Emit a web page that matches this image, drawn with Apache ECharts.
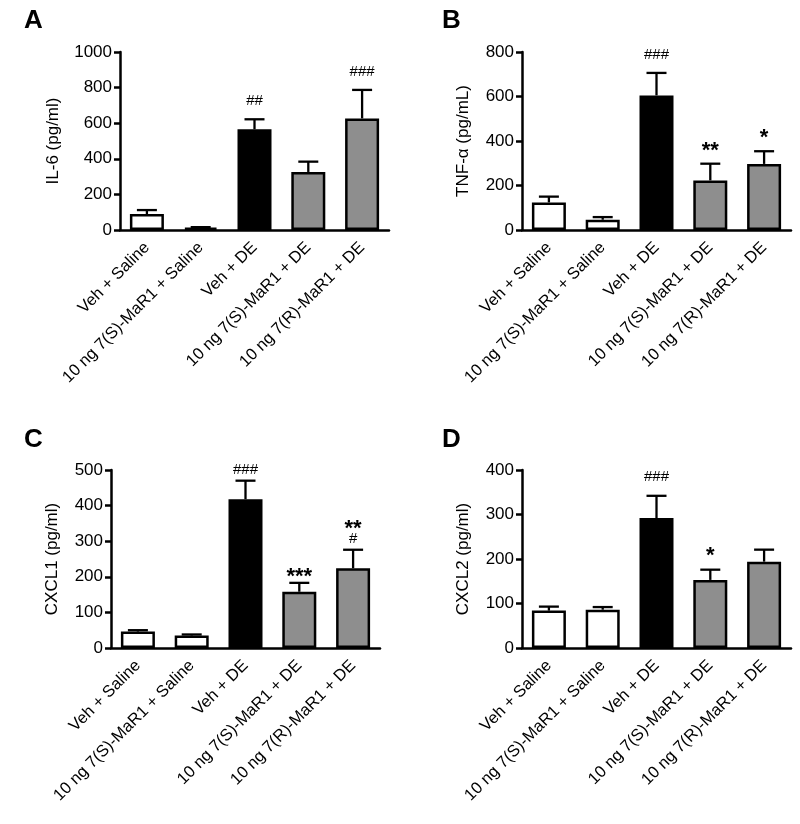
<!DOCTYPE html>
<html>
<head>
<meta charset="utf-8">
<script src="https://cdn.jsdelivr.net/npm/echarts@6/dist/echarts.min.js"></script>
<style>
html,body{margin:0;padding:0;background:#fff;}
#chart{width:800px;height:824px;}
</style>
</head>
<body>
<div id="chart"></div>
<script>
const categories = ['Veh + Saline', '10 ng 7(S)-MaR1 + Saline', 'Veh + DE', '10 ng 7(S)-MaR1 + DE', '10 ng 7(R)-MaR1 + DE'];

const il6Mean = [90, 13, 566, 326, 627];
const il6Sem = [22, 3, 56, 58, 160];
const il6Annot = [[], [], ['##'], [], ['###']];

const tnfMean = [124, 46, 605, 223, 297];
const tnfSem = [26, 12, 101, 75, 57];
const tnfAnnot = [[], [], ['###'], ['**'], ['*']];

const cxcl1Mean = [46, 35, 418, 158, 224];
const cxcl1Sem = [4, 3, 52, 25, 52];
const cxcl1Annot = [[], [], ['###'], ['***'], ['**', '#']];

const cxcl2Mean = [84, 86, 292, 153, 194];
const cxcl2Sem = [9, 6, 50, 23, 27];
const cxcl2Annot = [[], [], ['###'], ['*'], []];

const yTitles = ['IL-6 (pg/ml)', 'TNF-\u03b1 (pg/mL)', 'CXCL1 (pg/ml)', 'CXCL2 (pg/ml)'];
const yMax = [1000, 800, 500, 400];
const yInterval = [200, 200, 100, 100];
const panelLetters = ['A', 'B', 'C', 'D'];

const FONT = '"Liberation Sans", Arial, Helvetica, sans-serif';
const barColors = ['#ffffff', '#ffffff', '#000000', '#8e8e8e', '#8e8e8e'];

const panels = [
  {mean: il6Mean, sem: il6Sem, annot: il6Annot, grid: {left: 120, top: 52, width: 269, height: 178}, nameGap: 58, gap: 18, letter: [24, 8]},
  {mean: tnfMean, sem: tnfSem, annot: tnfAnnot, grid: {left: 522, top: 52, width: 269, height: 178}, nameGap: 50, gap: 18, letter: [442, 8]},
  {mean: cxcl1Mean, sem: cxcl1Sem, annot: cxcl1Annot, grid: {left: 111, top: 470, width: 269, height: 178}, nameGap: 50, gap: 11, letter: [24, 427]},
  {mean: cxcl2Mean, sem: cxcl2Sem, annot: cxcl2Annot, grid: {left: 522, top: 470, width: 269, height: 178}, nameGap: 50, gap: 19, letter: [442, 427]}
];

const grids = [], xAxes = [], yAxes = [], series = [], graphics = [];

panels.forEach((p, k) => {
  grids.push(p.grid);
  xAxes.push({
    type: 'category', gridIndex: k, data: categories,
    axisLine: {lineStyle: {color: '#000', width: 2.5}},
    axisTick: {alignWithLabel: true, length: 6, lineStyle: {color: '#000', width: 2.5}},
    axisLabel: {rotate: 45, interval: 0, margin: 15, color: '#000', fontSize: 16.5, fontFamily: FONT}
  });
  yAxes.push({
    type: 'value', gridIndex: k, min: 0, max: yMax[k], interval: yInterval[k],
    name: yTitles[k], nameLocation: 'middle', nameGap: p.nameGap,
    nameTextStyle: {color: '#000', fontSize: 17, fontFamily: FONT},
    axisLine: {show: true, lineStyle: {color: '#000', width: 2.5}},
    axisTick: {show: true, length: 6, lineStyle: {color: '#000', width: 2.5}},
    axisLabel: {color: '#000', fontSize: 17, fontFamily: FONT, margin: 8, formatter: v => String(v)},
    splitLine: {show: false}
  });
  series.push({
    type: 'bar', xAxisIndex: k, yAxisIndex: k, barWidth: 34,
    data: p.mean.map((v, i) => ({value: v, itemStyle: {color: barColors[i]}})),
    itemStyle: {borderColor: '#000', borderWidth: 2.5},
    z: 2, silent: true
  });
  series.push({
    type: 'custom', xAxisIndex: k, yAxisIndex: k, z: 3, silent: true,
    data: p.mean.map((v, i) => [i, v, p.sem[i]]),
    renderItem: function (params, api) {
      const x = api.value(0), m = api.value(1), s = api.value(2);
      const p0 = api.coord([x, m]);
      const p1 = api.coord([x, m + s]);
      const hw = 10;
      const st = {stroke: '#000', lineWidth: 2.3};
      return {type: 'group', children: [
        {type: 'line', shape: {x1: p0[0], y1: p0[1], x2: p1[0], y2: p1[1]}, style: st},
        {type: 'line', shape: {x1: p1[0] - hw, y1: p1[1], x2: p1[0] + hw, y2: p1[1]}, style: st}
      ]};
    }
  });
  series.push({
    type: 'custom', xAxisIndex: k, yAxisIndex: k, z: 4, silent: true,
    data: p.mean.map((v, i) => [i, v + p.sem[i]]),
    renderItem: function (params, api) {
      const i = api.value(0);
      const top = api.coord([i, api.value(1)]);
      const lines = p.annot[i];
      const children = [];
      let y = top[1] - p.gap;
      for (let j = lines.length - 1; j >= 0; j--) {
        const t = lines[j];
        const isStar = t.indexOf('*') >= 0;
        children.push({
          type: 'text',
          style: {
            text: t, x: top[0], y: isStar ? y + 5 : y,
            align: 'center', verticalAlign: 'middle',
            fill: '#000', font: isStar ? ('bold 22px ' + FONT) : ('15px ' + FONT)
          }
        });
        y -= 15;
      }
      return {type: 'group', children: children};
    }
  });
  graphics.push({
    type: 'text', left: p.letter[0], top: p.letter[1],
    style: {text: panelLetters[k], font: 'bold 26px ' + FONT, fill: '#000'}
  });
});

const chart = echarts.init(document.getElementById('chart'), null, {renderer: 'canvas'});
chart.setOption({
  animation: false,
  backgroundColor: '#ffffff',
  grid: grids, xAxis: xAxes, yAxis: yAxes, series: series, graphic: graphics
});
</script>
</body>
</html>
